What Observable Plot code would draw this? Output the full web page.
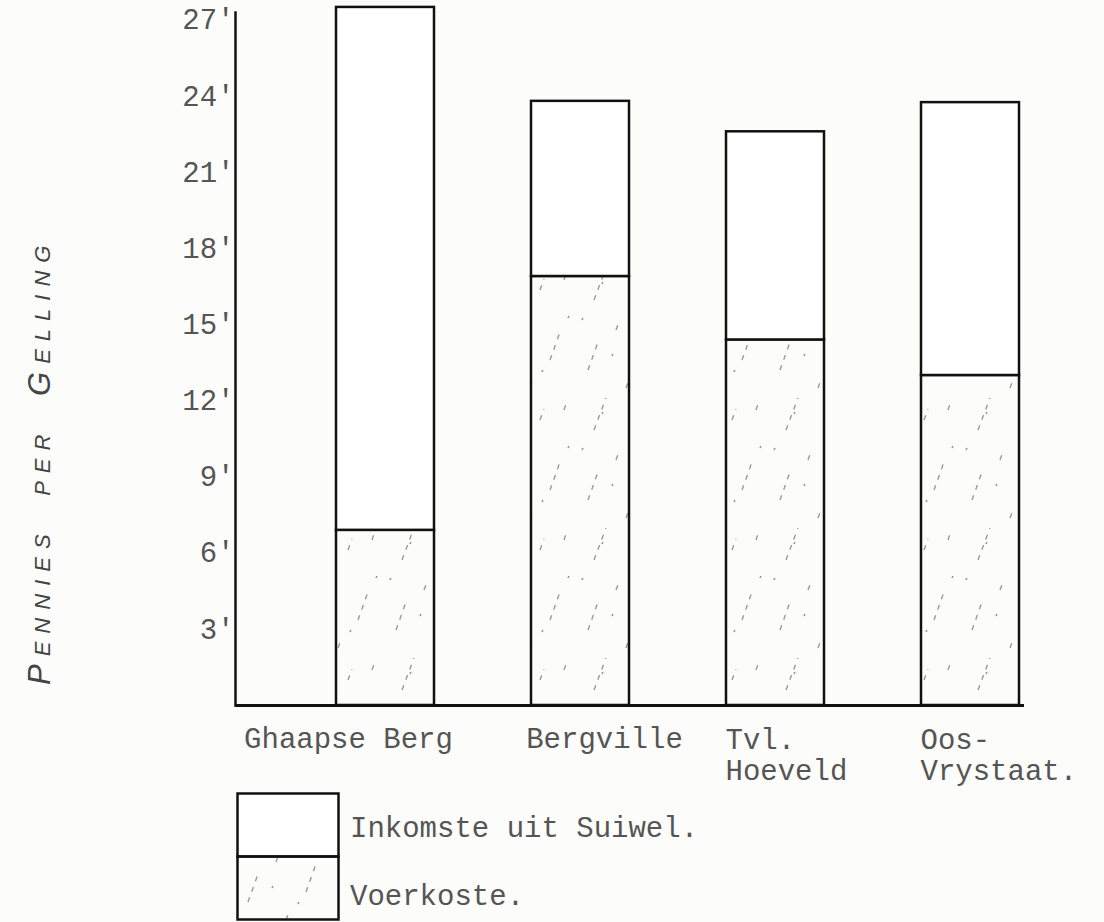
<!DOCTYPE html>
<html><head><meta charset="utf-8">
<script src="https://cdn.jsdelivr.net/npm/d3@7"></script>
<script src="https://cdn.jsdelivr.net/npm/@observablehq/plot@0.6"></script>
<style>
body{margin:0;background:#fcfcfa;}
#wrap{position:relative;width:1104px;height:922px;}
#legend{position:absolute;left:236px;top:792px;}
.lab{position:absolute;font-family:"Liberation Mono",monospace;font-size:29px;line-height:29px;color:#555;white-space:nowrap;}
</style></head>
<body><div id="wrap"></div>
<script>
const regions = ["Ghaapse Berg", "Bergville", "Tvl.\nHoeveld", "Oos-\nVrystaat."];
const incomeTotal = [27.5, 23.8, 22.6, 23.75];
const feedCost = [6.9, 16.9, 14.4, 13.0];
const yTicks = [3, 6, 9, 12, 15, 18, 21, 24, 27];
const yLabel = "Pennies per Gelling";
const legendLabels = ["Inkomste uit Suiwel.", "Voerkoste."];

const rows = regions.map((r, i) => ({region: r, total: incomeTotal[i], feed: feedCost[i]}));

const hatchDefs = id => `<pattern id="${id}" patternUnits="userSpaceOnUse" width="96" height="130">
<path d="M18 40 L30 8 M60 30 L64 19 M12 110 L22 82 M70 100 L80 72 M40 70 L43 62 M84 20 L86 14 M50 128 L53 120"
 stroke="#9a9a9a" stroke-width="1.4" stroke-dasharray="5 6" fill="none"/>
<path d="M6 60 l1 -2 M36 96 l1 -2 M88 58 l1 -2 M26 24 l1 -2 M62 112 l1 -2" stroke="#999" stroke-width="1.6" fill="none"/>
</pattern>`;

const chart = Plot.plot({
  width: 1104, height: 790,
  marginLeft: 235, marginRight: 80, marginTop: 12, marginBottom: 85,
  style: {background: "transparent", fontFamily: "Liberation Mono, monospace", color: "#555"},
  x: {domain: regions, paddingInner: 0.5, paddingOuter: 0.273, align: 0.948, axis: null},
  y: {domain: [0, 27.3], axis: null},
  marks: [
    Plot.barY(rows, {x: "region", y1: 0, y2: "feed", fill: "url(#hatch)", stroke: "#111", strokeWidth: 2.5}),
    Plot.barY(rows, {x: "region", y1: "feed", y2: "total", fill: "#fff", stroke: "#111", strokeWidth: 2.5}),
    Plot.axisY(yTicks, {tickSize: 0, tickPadding: 1, tickFormat: d => `${d}'`, fontSize: 29, fill: "#555", label: null}),
    Plot.frame({anchor: "left", stroke: "#111", strokeWidth: 2.5}),
    Plot.ruleY([0], {stroke: "#111", strokeWidth: 3}),
    Plot.text([regions[0]], {x: d => d, frameAnchor: "bottom", lineAnchor: "top", dx: -37, dy: 22, fontSize: 29, fill: "#555"}),
    Plot.text([regions[1]], {x: d => d, frameAnchor: "bottom", lineAnchor: "top", dx: 24, dy: 22, fontSize: 29, fill: "#555"}),
    Plot.text(regions.slice(2), {x: d => d, frameAnchor: "bottom", lineAnchor: "top", textAnchor: "start", dx: -50, dy: 22, fontSize: 29, lineHeight: 1.05, fill: "#555"}),
    Plot.text([yLabel], {frameAnchor: "left", textAnchor: "start", rotate: -90, dx: -195, dy: 326, fontSize: 31, fontVariant: "small-caps", fontStyle: "italic", fontFamily: "Liberation Sans", fill: "#444"})
  ]
});
d3.select(chart).insert("defs", ":first-child").html(hatchDefs("hatch"));
d3.select(chart).selectAll("text").filter(function() { return this.textContent === yLabel; })
  .style("letter-spacing", "8px").style("word-spacing", "14px");
const wrap = document.getElementById("wrap");
wrap.appendChild(chart);

// legend
const lg = d3.select(wrap).append("svg").attr("id", "legend").attr("width", 106).attr("height", 132);
lg.append("defs").html(hatchDefs("hatch2"));
lg.append("rect").attr("x", 1.5).attr("y", 1.5).attr("width", 101).attr("height", 63).attr("fill", "#fff").attr("stroke", "#111").attr("stroke-width", 2.5);
lg.append("rect").attr("x", 1.5).attr("y", 64.5).attr("width", 101).attr("height", 63).attr("fill", "url(#hatch2)").attr("stroke", "#111").attr("stroke-width", 2.5);
legendLabels.forEach((t, i) => {
  d3.select(wrap).append("div").attr("class", "lab").style("left", "350px").style("top", (815 + i * 68) + "px").text(t);
});
</script>
</body></html>
